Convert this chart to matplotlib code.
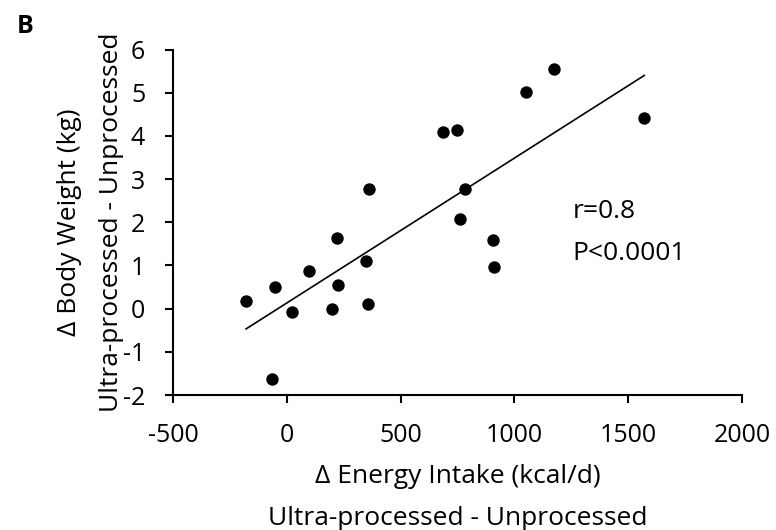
import matplotlib
matplotlib.use("Agg")
import matplotlib.pyplot as plt

plt.rcParams["font.family"] = ["Open Sans", "DejaVu Sans"]
plt.rcParams["axes.unicode_minus"] = False

# per-subject differences (ultra-processed minus unprocessed)
energy_intake = [-179, -50, -67, 23, 97, 226, 200, 350, 358, 219,
                 361, 687, 747, 783, 760, 904, 911, 1050, 1175, 1571]
body_weight = [0.18, 0.50, -1.64, -0.08, 0.88, 0.54, -0.02, 1.10, 0.11, 1.63,
               2.77, 4.08, 4.13, 2.77, 2.08, 1.58, 0.97, 5.01, 5.56, 4.41]

# regression line end points
fit_x = [-179, 1571]
fit_y = [-0.47, 5.40]

x_ticks = [-500, 0, 500, 1000, 1500, 2000]
y_ticks = [-2, -1, 0, 1, 2, 3, 4, 5, 6]

fig = plt.figure(figsize=(7.76, 5.30), dpi=100)
ax = fig.add_axes([0.2229, 0.2547, 0.7332, 0.6519])

ax.scatter(energy_intake, body_weight, s=80, color="black", linewidths=0, zorder=3)
ax.plot(fit_x, fit_y, color="black", linewidth=1.2)

ax.set_xlim(-500, 2000)
ax.set_ylim(-2, 6)
ax.set_xticks(x_ticks)
ax.set_yticks(y_ticks)
ax.tick_params(labelsize=18, length=6, width=1.5, direction="out", pad=14)

for side in ("top", "right"):
    ax.spines[side].set_visible(False)
for side in ("left", "bottom"):
    ax.spines[side].set_linewidth(1.5)

# axis titles placed by their last baseline
fig.text(0.5896, 0.0094, "\u0394 Energy Intake (kcal/d)\nUltra-processed - Unprocessed",
         fontsize=19, linespacing=1.9, ha="center", va="baseline")
fig.text(0.1302, 0.5802, "\u0394 Body Weight (kg)\nUltra-processed - Unprocessed",
         fontsize=19, linespacing=1.9, ha="center", va="baseline",
         rotation=90, rotation_mode="anchor")

ax.text(1257, 1.125, "r=0.8\nP<0.0001", fontsize=19, linespacing=1.9,
        ha="left", va="baseline")

fig.text(0.0219, 0.9377, "B", fontsize=18, fontweight="bold", ha="left", va="baseline")

fig.savefig("out.png", dpi=100)
plt.close(fig)
